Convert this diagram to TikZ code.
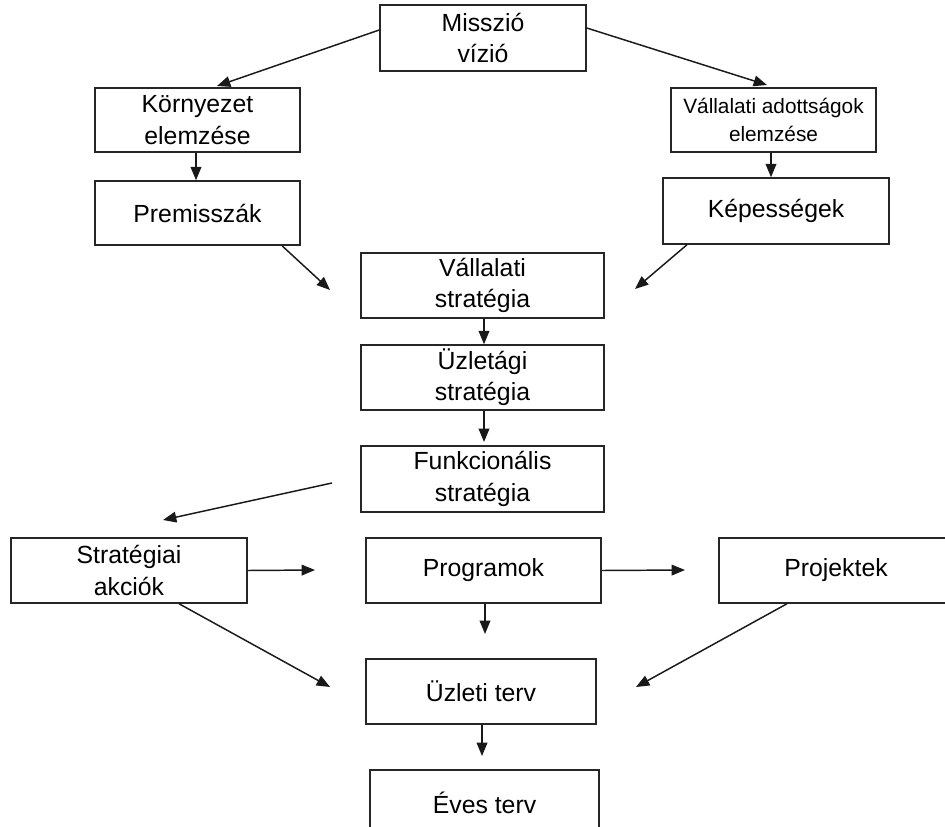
\documentclass[tikz,border=0pt]{standalone}
\usepackage{fontspec}
\setmainfont{Liberation Sans}
\usetikzlibrary{arrows.meta,calc}
\begin{document}
\begin{tikzpicture}[x=0.75pt,y=-0.75pt,
  box/.style={draw=black!85,line width=1.1pt,fill=white,rectangle,align=center,
    inner sep=0pt,font=\fontsize{18.6}{23.5}\selectfont},
  smallbox/.style={box,font=\fontsize{15.6}{20.5}\selectfont},
  arr/.style={draw=black!90,line width=1.1pt,-{Triangle[length=10pt,width=8pt]}}]
\useasboundingbox (0,0) rectangle (945,827);

% boxes
\node[box,minimum width=154.5pt,minimum height=49.5pt] (mv) at (483,38) {Misszió\\vízió};
\node[box,minimum width=153.75pt,minimum height=48pt] (ke) at (197.5,120) {Környezet\\elemzése};
\node[smallbox,minimum width=153.75pt,minimum height=48pt] (va) at (773.5,120) {Vállalati adottságok\\elemzése};
\node[box,minimum width=153.75pt,minimum height=48pt] (pr) at (197.5,213) {Premisszák};
\node[box,minimum width=169.5pt,minimum height=49.5pt] (kp) at (776,211) {Képességek};
\node[box,minimum width=182.25pt,minimum height=48.75pt] (vs) at (482.5,285.5) {Vállalati\\stratégia};
\node[box,minimum width=182.25pt,minimum height=48.75pt] (us) at (482.5,377.5) {Üzletági\\stratégia};
\node[box,minimum width=182.25pt,minimum height=49.5pt] (fs) at (482.5,479) {Funkcionális\\stratégia};
\node[box,minimum width=177pt,minimum height=48.75pt] (sa) at (129,570.5) {Stratégiai\\akciók};
\node[box,minimum width=176.25pt,minimum height=48.75pt] (pg) at (483.5,570.5) {Programok};
\node[box,minimum width=175.5pt,minimum height=48.75pt] (pj) at (836,570.5) {Projektek};
\node[box,minimum width=172.5pt,minimum height=48.75pt] (ut) at (481,691.5) {Üzleti terv};
\node[box,minimum width=171.75pt,minimum height=48.75pt] (et) at (484.5,802.5) {Éves terv};

% free arrow ends
\coordinate (keIn) at (217,86);
\coordinate (vaIn) at (767,85);
\coordinate (vsInL) at (330,290);
\coordinate (vsInR) at (635,289);
\coordinate (usOut) at (484,442);
\coordinate (fsOut) at (332,483);
\coordinate (saIn) at (163,520);
\coordinate (pgIn) at (315,570);
\coordinate (pjIn) at (685,570);
\coordinate (pgOut) at (485,634);
\coordinate (utInL) at (330,687);
\coordinate (utInR) at (636,687);
\coordinate (utOut) at (482,756);

% connectors
\draw[arr] ($(mv.west)+(0,-8)$) -- (keIn);
\draw[arr] ($(mv.east)+(0,-10)$) -- (vaIn);
\draw[arr] ($(ke.south)+(-1.5,0)$) -- ($(pr.north)+(-1.5,0)$);
\draw[arr] ($(va.south)+(-2.5,0)$) -- ($(kp.north)+(-5,0)$);
\draw[arr] ($(pr.south)+(84.5,0)$) -- (vsInL);
\draw[arr] ($(kp.south)+(-89,0)$) -- (vsInR);
\draw[arr] ($(vs.south)+(1.5,0)$) -- ($(us.north)+(1.5,0)$);
\draw[arr] ($(us.south)+(1.5,0)$) -- (usOut);
\draw[arr] (fsOut) -- (saIn);
\draw[arr] (sa.east) -- (pgIn);
\draw[arr] (pg.east) -- (pjIn);
\draw[arr] ($(pg.south)+(1.5,0)$) -- (pgOut);
\draw[arr] ($(sa.south)+(50,0)$) -- (utInL);
\draw[arr] ($(pj.south)+(-49,0)$) -- (utInR);
\draw[arr] ($(ut.south)+(1,0)$) -- (utOut);
\end{tikzpicture}
\end{document}
